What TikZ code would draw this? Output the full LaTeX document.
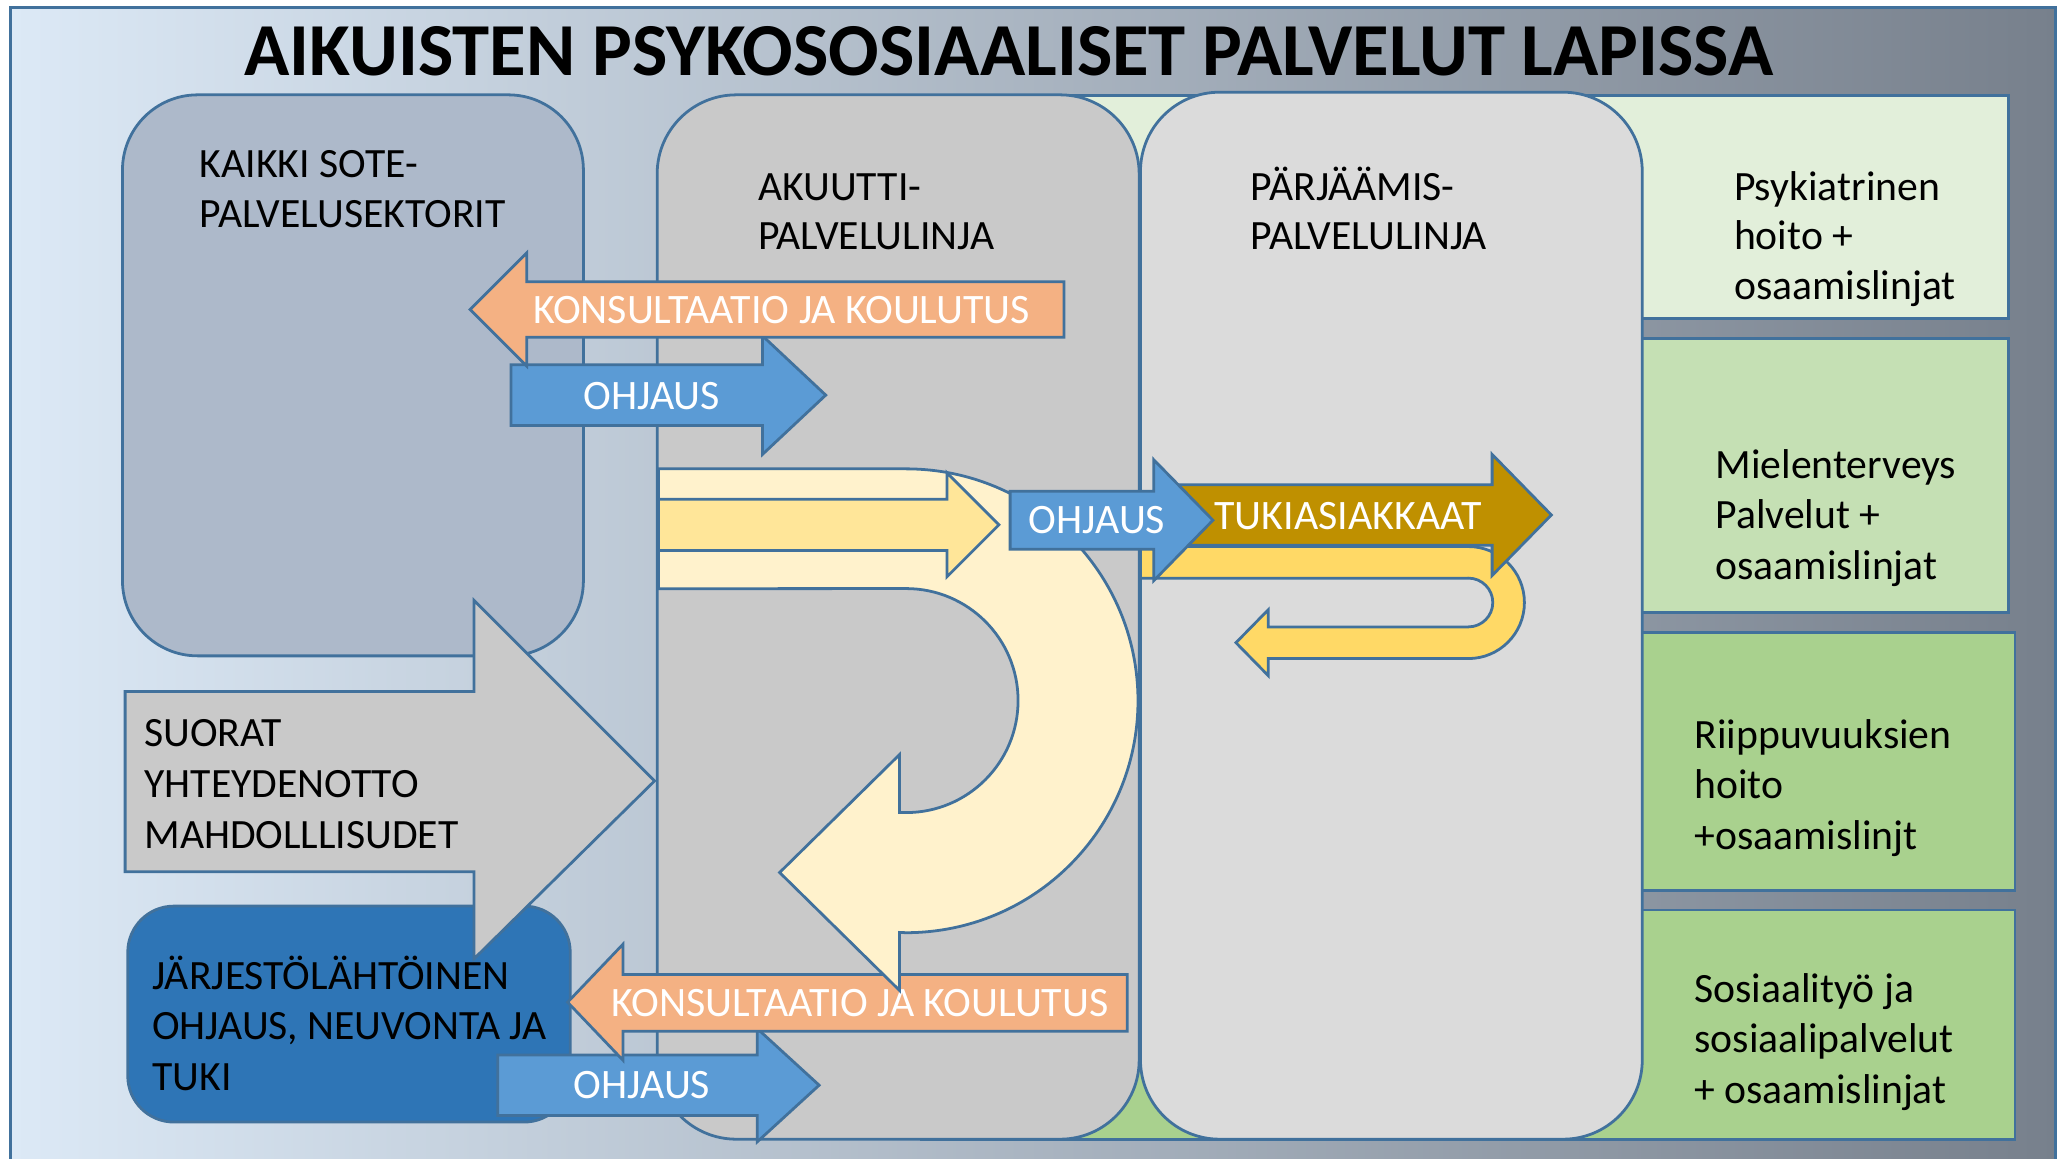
\documentclass[tikz,border=0pt]{standalone}
\usepackage{fontspec}
\setmainfont{Carlito}
\definecolor{olc}{HTML}{41719C}
\definecolor{bgL}{HTML}{DCE9F6}
\definecolor{bgM}{HTML}{BDCBD9}
\definecolor{bgR}{HTML}{77808C}
\definecolor{gA}{HTML}{E2EFDA}
\definecolor{gB}{HTML}{C5E0B4}
\definecolor{gC}{HTML}{A9D18E}
\definecolor{boxA}{HTML}{ADB9CA}
\definecolor{boxB}{HTML}{C9C9C9}
\definecolor{boxC}{HTML}{DBDBDB}
\definecolor{darkblue}{HTML}{2E75B6}
\definecolor{arrblue}{HTML}{5B9BD5}
\definecolor{arrorange}{HTML}{F4B183}
\definecolor{arrgold}{HTML}{BF9000}
\definecolor{ylwA}{HTML}{FFF2CC}
\definecolor{ylwB}{HTML}{FFE699}
\definecolor{ylwC}{HTML}{FFD966}
\newcommand\mlines[1]{\begin{tabular}[t]{@{}l@{}}#1\end{tabular}}
\tikzset{
  ol/.style={draw=olc, line width=0.6pt, line join=miter},
  lbl/.style={font=\fontsize{9.05}{10.8}\selectfont, text=white, inner sep=0pt, anchor=base},
  txt/.style={font=\fontsize{9.0}{10.75}\selectfont, inner sep=0pt, anchor=base west},
  txtw/.style={font=\fontsize{9.0}{10.95}\selectfont, inner sep=0pt, anchor=base west},
}
\begin{document}
\begin{tikzpicture}[x=0.01cm,y=-0.01cm]
\useasboundingbox (0,0) rectangle (1568,879.3);
\clip (0,0) rectangle (1568,879.3);
\fill[white] (0,0) rectangle (1568,879.3);
% background frame
\path[left color=bgL, middle color=bgM, right color=bgR, draw=olc, line width=0.6pt] (8,5.5) rectangle (1561,900);
\node[font=\fontsize{16.15}{19}\selectfont\bfseries, inner sep=0pt, anchor=base] (title) at (766,57.6) {AIKUISTEN PSYKOSOSIAALISET PALVELUT LAPISSA};

% green service rectangles
\path[ol, fill=gA] (700,72.5) rectangle (1525,242);
\path[ol, fill=gB] (700,257) rectangle (1525,465);
\path[ol, fill=gC] (700,480) rectangle (1530,676);
\path[ol, fill=gC] (700,691) rectangle (1530,865);
\node[txt] (psy) at (1316,152) {\mlines{Psykiatrinen\\hoito +\\osaamislinjat}};
\node[txtw] (mie) at (1302,363) {\mlines{Mielenterveys\\Palvelut +\\osaamislinjat}};
\node[txtw] (rii) at (1286,568) {\mlines{Riippuvuuksien\\hoito\\+osaamislinjt}};
\node[txtw] (sos) at (1286,761) {\mlines{Sosiaality\"o ja\\sosiaalipalvelut\\+ osaamislinjat}};

% main columns
\path[ol, fill=boxA, rounded corners=0.57cm] (93,72) rectangle (443,498);
\path[ol, fill=boxB, rounded corners=0.6cm] (499,72) rectangle (865,865);
\path[ol, fill=boxC, rounded corners=0.6cm] (866,70) rectangle (1247,865);
\node[txt] (sote) at (151,135) {\mlines{KAIKKI SOTE-\\PALVELUSEKTORIT}};
\node[txt] (akuu) at (575,152) {\mlines{AKUUTTI-\\PALVELULINJA}};
\node[txt] (parj) at (949,152) {\mlines{P\"ARJ\"A\"AMIS-\\PALVELULINJA}};

% organisation box
\path[ol, fill=darkblue, rounded corners=0.35cm] (97,688) rectangle (433,852);
\node[txtw] (jarj) at (115,751) {\mlines{J\"ARJEST\"OL\"AHT\"OINEN\\OHJAUS, NEUVONTA JA\\TUKI}};

% direct contact arrow
\path[ol, fill=boxB] (95,525) -- (360,525) -- (360,456) -- (497,593) -- (360,728) -- (360,662) -- (95,662) -- cycle;
\node[txtw] (suor) at (109,567) {\mlines{SUORAT\\YHTEYDENOTTO\\MAHDOLLLISUDET}};

% top arrows
\path[ol, fill=arrblue] (388,277) -- (579,277) -- (579,255) -- (627,300) -- (579,345) -- (579,323) -- (388,323) -- cycle;
\node[lbl] (ohj1) at (495,310.7) {OHJAUS};
\path[ol, fill=arrorange] (808,214) -- (400,214) -- (400,192) -- (357,235) -- (400,278) -- (400,256) -- (808,256) -- cycle;
\node[lbl] (kon1) at (593.5,246) {KONSULTAATIO JA KOULUTUS};

% bottom arrows
\path[ol, fill=arrblue] (378,801) -- (575,801) -- (575,781) -- (622,824) -- (575,867) -- (575,847) -- (378,847) -- cycle;
\node[lbl] (ohj3) at (487.5,834) {OHJAUS};
\path[ol, fill=arrorange] (856,740) -- (473,740) -- (473,717) -- (431,761) -- (473,805) -- (473,783) -- (856,783) -- cycle;
\node[lbl] (kon2) at (653,771.5) {KONSULTAATIO JA KOULUTUS};

% big U-turn arrow
\path[ol, fill=ylwA] (500,356) -- (688,356) arc[start angle=90, end angle=-90, radius=1.76cm]
  -- (683,708) -- (683,752) -- (592,662.5) -- (683,573) -- (683,617) -- (688,617)
  arc[start angle=-90, end angle=90, radius=0.85cm] -- (500,447) -- cycle;
\path[ol, fill=ylwB] (500,379) -- (719,379) -- (719,359) -- (758.5,398.5) -- (719,438) -- (719,418) -- (500,418) -- cycle;

% small U-turn arrow
\path[ol, fill=ylwC] (866,415) -- (1115,415) arc[start angle=90, end angle=-90, radius=0.425cm]
  -- (963,500) -- (963,513) -- (938.5,488) -- (963,463) -- (963,476) -- (1115,476)
  arc[start angle=-90, end angle=90, radius=0.185cm] -- (866,439) -- cycle;

% support clients arrow
\path[ol, fill=arrgold] (890,368) -- (1133,368) -- (1133,345) -- (1178,391) -- (1133,437) -- (1133,414) -- (890,414) -- cycle;
\node[lbl] (tuki) at (1023.6,401.9) {TUKIASIAKKAAT};

% middle guidance arrow
\path[ol, fill=arrblue] (767,373) -- (876,373) -- (876,349) -- (921,395) -- (876,441) -- (876,417) -- (767,417) -- cycle;
\node[lbl] (ohj2) at (833,405) {OHJAUS};
\end{tikzpicture}
\end{document}
